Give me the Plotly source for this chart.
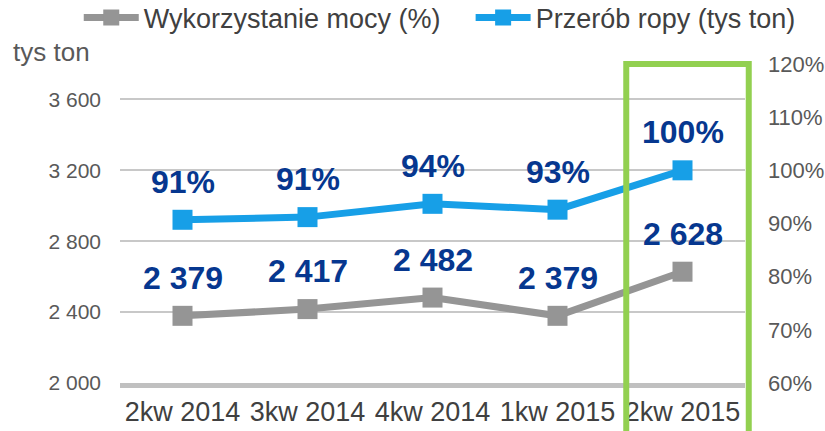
import plotly.graph_objects as go

categories = ["2kw 2014", "3kw 2014", "4kw 2014", "1kw 2015", "2kw 2015"]
gray_values = [2379, 2417, 2482, 2379, 2628]          # left axis (tys ton)
blue_values = [0.907, 0.912, 0.937, 0.926, 1.000]     # right axis (%)
gray_name = "Wykorzystanie mocy (%)"
blue_name = "Przerób ropy (tys ton)"
left_ticks = [2000, 2400, 2800, 3200, 3600]
right_ticks = [0.6, 0.7, 0.8, 0.9, 1.0, 1.1, 1.2]

FONT = "Liberation Sans, Arial, sans-serif"
GRAY = "#959595"
BLUE = "#179FE7"
LABEL = "#06378F"
TICK = "#595959"
GREEN = "#92D050"

fig = go.Figure()
fig.add_trace(go.Scatter(
    x=categories, y=gray_values, name=gray_name, mode="lines+markers",
    line=dict(color=GRAY, width=7), marker=dict(symbol="square", size=20, color=GRAY),
    yaxis="y", legend="legend", showlegend=True, cliponaxis=False))
fig.add_trace(go.Scatter(
    x=categories, y=blue_values, name=blue_name, mode="lines+markers",
    line=dict(color=BLUE, width=7), marker=dict(symbol="square", size=20, color=BLUE),
    yaxis="y2", legend="legend2", showlegend=True, cliponaxis=False))

annotations = []
for c, v in zip(categories, gray_values):
    annotations.append(dict(x=c, y=v, xref="x", yref="y", text=f"{v:,}".replace(",", " "),
                            showarrow=False, yanchor="middle", yshift=38,
                            font=dict(family=FONT, size=32, color=LABEL, weight="bold")))
for c, v in zip(categories, blue_values):
    annotations.append(dict(x=c, y=v, xref="x", yref="y2", text=f"{round(v*100)}%",
                            showarrow=False, yanchor="middle", yshift=38,
                            font=dict(family=FONT, size=32, color=LABEL, weight="bold")))
annotations.append(dict(x=-0.175, y=1.038, xref="paper", yref="paper", text="tys ton",
                        showarrow=False, xanchor="left", yanchor="middle",
                        font=dict(family=FONT, size=26, color=TICK)))

fig.update_layout(
    width=825, height=431,
    showlegend=True,
    margin=dict(l=120, r=80, t=64, b=48, autoexpand=False),
    paper_bgcolor="white", plot_bgcolor="white",
    separators=", ",
    font=dict(family=FONT, color=TICK),
    xaxis=dict(type="category", range=[-0.5, 4.5], showgrid=False, showline=True,
               linecolor="#C0C0C0", linewidth=5, ticks="", ticklabelstandoff=1,
               tickfont=dict(size=27, color="#404040"), zeroline=False),
    yaxis=dict(range=[2000, 3800], tickvals=left_ticks, tickformat=",d",
               showgrid=True, gridcolor="#C8C8C8", gridwidth=2, zeroline=False,
               showline=False, ticks="", ticklabelstandoff=18,
               tickfont=dict(size=21, color=TICK)),
    yaxis2=dict(range=[0.6, 1.2], tickvals=right_ticks, tickformat=".0%",
                overlaying="y", side="right", showgrid=False, zeroline=False,
                showline=False, ticks="", ticklabelstandoff=22,
                tickfont=dict(size=22, color=TICK)),
    legend=dict(x=-0.066, y=1.144, xanchor="left", yanchor="middle",
                orientation="h", font=dict(size=27, color="#404040"),
                itemwidth=55, bgcolor="rgba(0,0,0,0)"),
    legend2=dict(x=0.561, y=1.144, xanchor="left", yanchor="middle",
                 orientation="h", font=dict(size=27, color="#404040"),
                 itemwidth=55, bgcolor="rgba(0,0,0,0)"),
    annotations=annotations,
    shapes=[dict(type="rect", xref="x domain", yref="paper",
                 x0=0.81, x1=1.006, y0=-0.3, y1=1.0,
                 line=dict(color=GREEN, width=6), fillcolor="rgba(0,0,0,0)",
                 layer="above")],
)

fig.write_html("out.html", config={"displayModeBar": False},
               post_script="document.body.style.margin='0';document.body.style.overflow='hidden';")
